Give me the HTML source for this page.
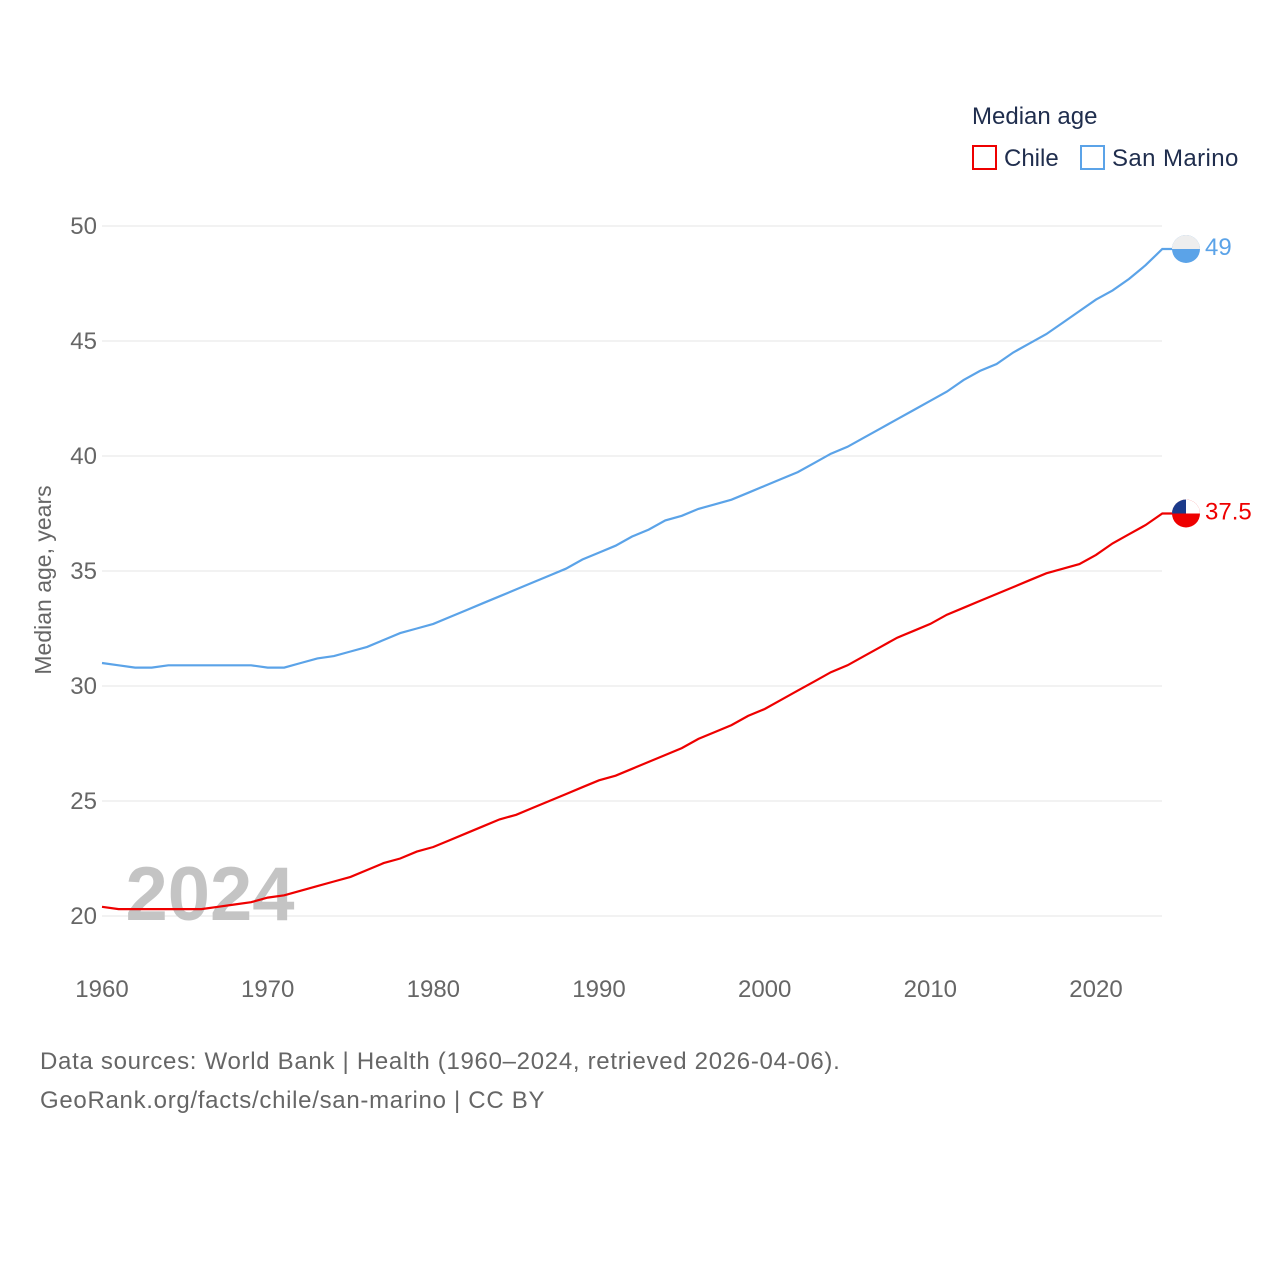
<!DOCTYPE html>
<html><head><meta charset="utf-8"><style>
body{margin:0;background:#fff;font-family:"Liberation Sans",sans-serif}
svg text{font-family:"Liberation Sans",sans-serif}
</style></head><body>
<svg width="1280" height="1280" xmlns="http://www.w3.org/2000/svg">
<defs><clipPath id="cc"><circle cx="1186" cy="513" r="14"/></clipPath></defs>
<g id="grid"></g>
<g id="yt"></g>
<g id="xt"></g>
<text x="210" y="920" font-size="76" font-weight="bold" fill="#c4c4c4" text-anchor="middle">2024</text>
<g id="lines"></g>
<text transform="translate(51,580) rotate(-90)" font-size="23" fill="#666" text-anchor="middle">Median age, years</text>
<text x="972" y="124" font-size="24" fill="#1f2d4d">Median age</text>
<g><rect x="973" y="146" width="23" height="23" fill="none" stroke="#ee0000" stroke-width="2"/><text x="1004" y="166" font-size="24" fill="#1f2d4d">Chile</text></g>
<g><rect x="1081" y="146" width="23" height="23" fill="none" stroke="#5ba3e8" stroke-width="2"/><text x="1112" y="166" font-size="24" fill="#1f2d4d" letter-spacing="0.4">San Marino</text></g>
<g id="ends"></g>
<text x="40" y="1069" font-size="24" letter-spacing="0.7" fill="#666">Data sources: World Bank | Health (1960–2024, retrieved 2026-04-06).</text>
<text x="40" y="1108" font-size="24" letter-spacing="0.7" fill="#666">GeoRank.org/facts/chile/san-marino | CC BY</text>
</svg>
<script>
const years=[];for(let y=1960;y<=2024;y++)years.push(y);
const chile=[20.4,20.3,20.3,20.3,20.3,20.3,20.3,20.4,20.5,20.6,20.8,20.9,21.1,21.3,21.5,21.7,22.0,22.3,22.5,22.8,23.0,23.3,23.6,23.9,24.2,24.4,24.7,25.0,25.3,25.6,25.9,26.1,26.4,26.7,27.0,27.3,27.7,28.0,28.3,28.7,29.0,29.4,29.8,30.2,30.6,30.9,31.3,31.7,32.1,32.4,32.7,33.1,33.4,33.7,34.0,34.3,34.6,34.9,35.1,35.3,35.7,36.2,36.6,37.0,37.5];
const sanMarino=[31.0,30.9,30.8,30.8,30.9,30.9,30.9,30.9,30.9,30.9,30.8,30.8,31.0,31.2,31.3,31.5,31.7,32.0,32.3,32.5,32.7,33.0,33.3,33.6,33.9,34.2,34.5,34.8,35.1,35.5,35.8,36.1,36.5,36.8,37.2,37.4,37.7,37.9,38.1,38.4,38.7,39.0,39.3,39.7,40.1,40.4,40.8,41.2,41.6,42.0,42.4,42.8,43.3,43.7,44.0,44.5,44.9,45.3,45.8,46.3,46.8,47.2,47.7,48.3,49.0];
const yTicks=[20,25,30,35,40,45,50];
const xTicks=[1960,1970,1980,1990,2000,2010,2020];
const endLabels=["37.5","49"];
const X=y=>102+(y-1960)*(994/60), Y=v=>916-(v-20)*23;
const NS="http://www.w3.org/2000/svg";
function mk(t,a,p){const e=document.createElementNS(NS,t);for(const k in a)e.setAttribute(k,a[k]);p.appendChild(e);return e;}
const grid=document.getElementById('grid'),yt=document.getElementById('yt'),xt=document.getElementById('xt');
yTicks.forEach(v=>{const l=mk('line',{x1:102,x2:1162,y1:Y(v),y2:Y(v),stroke:'#e6e6e6','stroke-width':1},grid);


const t=mk('text',{x:97,y:Y(v)+8,'font-size':24,fill:'#666','text-anchor':'end'},yt);t.textContent=v;

});
xTicks.forEach(v=>{const t=mk('text',{x:X(v),y:997,'font-size':24,fill:'#666','text-anchor':'middle'},xt);t.textContent=v;

});
const lines=document.getElementById('lines'),ends=document.getElementById('ends');
[[chile,'#ee0000','chile',endLabels[0]],[sanMarino,'#5ba3e8','san-marino',endLabels[1]]].forEach(([d,c,n,lab])=>{
let p=d.map((v,i)=>(i?'L':'M')+X(years[i]).toFixed(1)+','+Y(v).toFixed(1)).join('');
const last=Y(d[d.length-1]);p+='L1174,'+last.toFixed(1);
const e=mk('path',{d:p,fill:'none',stroke:c,'stroke-width':2.2},lines);


const f=mk('circle',{cx:1186,cy:last,r:14,fill:c},ends);


mk('path',{d:`M1172,${last} a14,14 0 0 1 28,0 z`,fill:n==='chile'?'#fff':'#eee'},ends);
if(n==='chile')mk('path',{d:`M1186,${last} L1172,${last} A14,14 0 0 1 1186,${last-14} Z`,fill:'#1b3a8a'},ends);
const t=mk('text',{x:1205,y:last+6,'font-size':24,fill:c},ends);t.textContent=lab;

});
</script>
</body></html>
